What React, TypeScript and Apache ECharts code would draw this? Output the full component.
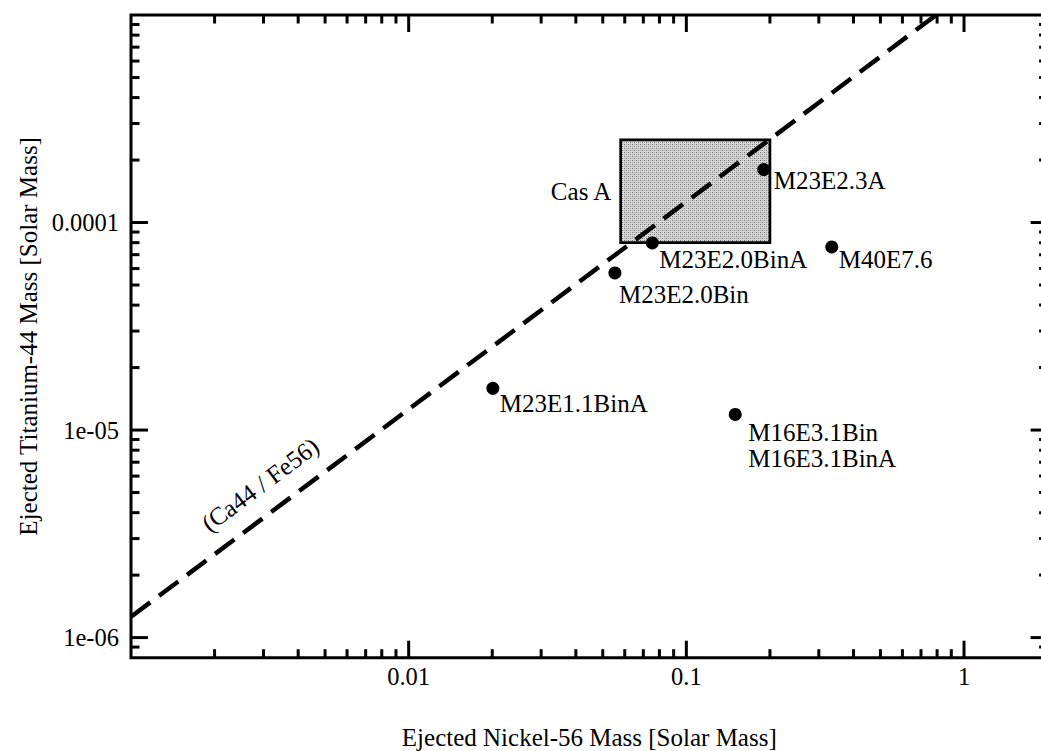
import React, { useEffect, useRef } from 'react';
import * as echarts from 'echarts';

// Supernova models: ejected 56Ni vs ejected 44Ti (solar masses)
const MODEL_NAMES = [
  'M23E2.3A',
  'M23E2.0BinA',
  'M40E7.6',
  'M23E2.0Bin',
  'M23E1.1BinA',
  'M16E3.1Bin\nM16E3.1BinA',
];
const NI56_MASS = [0.19, 0.0754, 0.334, 0.0553, 0.0201, 0.15];
const TI44_MASS = [1.8e-4, 7.97e-5, 7.63e-5, 5.72e-5, 1.59e-5, 1.19e-5];

// Cas A observational box
const CAS_A_NI56 = [0.058, 0.2];
const CAS_A_TI44 = [8.0e-5, 2.5e-4];
const CAS_A_LABEL = 'Cas A';

// Constant Ca44/Fe56 ratio line
const TI44_PER_NI56 = 1.26e-3;
const RATIO_LABEL = '(Ca44 / Fe56)';
const RATIO_LABEL_AT = [0.00292, 5.45e-6];

// Axis ranges and labelled ticks
const X_RANGE = [0.001, 2];
const Y_RANGE = [8e-7, 1e-3];
const X_TICK_VALUES = [0.01, 0.1, 1];
const X_TICK_LABELS = ['0.01', '0.1', '1'];
const Y_TICK_VALUES = [1e-6, 1e-5, 1e-4];
const Y_TICK_LABELS = ['1e-06', '1e-05', '0.0001'];

const X_TITLE = 'Ejected Nickel-56 Mass [Solar Mass]';
const Y_TITLE = 'Ejected Titanium-44 Mass [Solar Mass]';

// Label placement relative to each model point (px)
const LABEL_OFFSETS: [number, number][] = [
  [10, 11],
  [7, 17],
  [7, 13],
  [4, 22],
  [7, 15],
  [13, 31],
];

const FONT = "'Liberation Serif', 'Times New Roman', Times, serif";
const MAJOR_LEN = 17;
const MINOR_LEN = 8.5;

function logTicks(min: number, max: number) {
  const out: { v: number; major: boolean }[] = [];
  for (let e = Math.floor(Math.log10(min)); e <= Math.ceil(Math.log10(max)); e++) {
    for (let m = 1; m <= 9; m++) {
      const v = m * Math.pow(10, e);
      if (v > min * 1.0001 && v < max / 1.0001) out.push({ v, major: m === 1 });
    }
  }
  return out;
}

function tickLabel(values: number[], labels: string[]) {
  return (v: number) => {
    for (let i = 0; i < values.length; i++) {
      if (Math.abs(Math.log10(v) - Math.log10(values[i])) < 1e-6) return labels[i];
    }
    return '';
  };
}

// Fine stipple used to fill the Cas A box
function stipple() {
  const c = document.createElement('canvas');
  c.width = 4;
  c.height = 4;
  const ctx = c.getContext('2d');
  if (!ctx) return '#c6c6c6';
  ctx.fillStyle = '#d9d9d9';
  ctx.fillRect(0, 0, 4, 4);
  ctx.fillStyle = '#6e6e6e';
  ctx.fillRect(0, 0, 1, 1);
  ctx.fillRect(2, 2, 1, 1);
  ctx.fillStyle = '#a8a8a8';
  ctx.fillRect(2, 0, 1, 1);
  ctx.fillRect(0, 2, 1, 1);
  return { image: c, repeat: 'repeat' };
}

export default function App() {
  const ref = useRef<HTMLDivElement>(null);

  useEffect(() => {
    if (!ref.current) return;
    const chart = echarts.init(ref.current, undefined, { renderer: 'svg' });

    const tickData: number[][] = [];
    logTicks(X_RANGE[0], X_RANGE[1]).forEach((t) =>
      tickData.push([t.v, 1e-5, t.major ? 0 : 1])
    );
    logTicks(Y_RANGE[0], Y_RANGE[1]).forEach((t) =>
      tickData.push([0.01, t.v, t.major ? 2 : 3])
    );

    const points = MODEL_NAMES.map((name, i) => ({
      name,
      value: [NI56_MASS[i], TI44_MASS[i]],
      label: { offset: LABEL_OFFSETS[i] },
    }));

    const textStyle = { color: '#000', fontFamily: FONT };

    chart.setOption({
      animation: false,
      backgroundColor: '#fff',
      grid: {
        left: 131,
        top: 15,
        right: -6.6,
        bottom: 93.3,
        show: true,
        borderColor: '#000',
        borderWidth: 3,
        backgroundColor: 'transparent',
        containLabel: false,
        outerBoundsMode: 'none',
      },
      xAxis: {
        type: 'log',
        logBase: 10,
        min: X_RANGE[0],
        max: X_RANGE[1],
        axisLine: { show: false },
        axisTick: { show: false },
        splitLine: { show: false },
        axisLabel: {
          ...textStyle,
          fontSize: 24.5,
          margin: 6,
          formatter: tickLabel(X_TICK_VALUES, X_TICK_LABELS),
        },
        name: X_TITLE,
        nameLocation: 'middle',
        nameGap: 67,
        nameTextStyle: { ...textStyle, fontSize: 25 },
      },
      yAxis: {
        type: 'log',
        logBase: 10,
        min: Y_RANGE[0],
        max: Y_RANGE[1],
        axisLine: { show: false },
        axisTick: { show: false },
        splitLine: { show: false },
        axisLabel: {
          ...textStyle,
          fontSize: 24.5,
          margin: 12,
          formatter: tickLabel(Y_TICK_VALUES, Y_TICK_LABELS),
        },
        name: Y_TITLE,
        nameLocation: 'middle',
        nameGap: 90,
        nameTextStyle: { ...textStyle, fontSize: 25 },
      },
      series: [
        {
          // inward ticks on all four sides
          type: 'custom',
          silent: true,
          encode: { x: 0, y: 1 },
          data: tickData,
          z: 10,
          renderItem: (params: any, api: any) => {
            const cs = params.coordSys;
            const kind = api.value(2);
            const len = kind % 2 === 0 ? MAJOR_LEN : MINOR_LEN;
            const style = { stroke: '#000', lineWidth: 3 };
            const p = api.coord([api.value(0), api.value(1)]);
            if (kind < 2) {
              const x = p[0];
              return {
                type: 'group',
                children: [
                  { type: 'line', shape: { x1: x, y1: cs.y + cs.height, x2: x, y2: cs.y + cs.height - len }, style },
                  { type: 'line', shape: { x1: x, y1: cs.y, x2: x, y2: cs.y + len }, style },
                ],
              };
            }
            const y = p[1];
            return {
              type: 'group',
              children: [
                { type: 'line', shape: { x1: cs.x, y1: y, x2: cs.x + len, y2: y }, style },
                { type: 'line', shape: { x1: cs.x + cs.width, y1: y, x2: cs.x + cs.width - len, y2: y }, style },
              ],
            };
          },
        },
        {
          type: 'line',
          silent: true,
          symbol: 'none',
          z: 3,
          data: [
            [X_RANGE[0], TI44_PER_NI56 * X_RANGE[0]],
            [Y_RANGE[1] / TI44_PER_NI56, Y_RANGE[1]],
          ],
          lineStyle: { color: '#000', width: 4.5, type: [24, 11] },
          markArea: {
            silent: true,
            itemStyle: { color: stipple(), borderColor: '#000', borderWidth: 2.7 },
            label: {
              show: true,
              position: 'left',
              distance: 8,
              ...textStyle,
              fontSize: 25,
            },
            data: [
              [
                { name: CAS_A_LABEL, coord: [CAS_A_NI56[0], CAS_A_TI44[0]] },
                { coord: [CAS_A_NI56[1], CAS_A_TI44[1]] },
              ],
            ],
          },
          markPoint: {
            silent: true,
            symbol: 'circle',
            symbolSize: 1,
            itemStyle: { color: 'rgba(0,0,0,0)' },
            label: {
              show: true,
              position: 'inside',
              formatter: RATIO_LABEL,
              rotate: 36.7,
              ...textStyle,
              fontSize: 25,
            },
            data: [{ coord: RATIO_LABEL_AT }],
          },
        },
        {
          type: 'scatter',
          silent: true,
          z: 5,
          symbol: 'circle',
          symbolSize: 13,
          itemStyle: { color: '#000', opacity: 1 },
          data: points,
          label: {
            show: true,
            position: 'inside',
            align: 'left',
            verticalAlign: 'middle',
            formatter: '{b}',
            lineHeight: 26,
            ...textStyle,
            fontSize: 25,
          },
        },
      ],
    });

    return () => chart.dispose();
  }, []);

  return (
    <div
      ref={ref}
      style={{ position: 'absolute', left: 0, top: 0, width: 1041, height: 751 }}
    />
  );
}
